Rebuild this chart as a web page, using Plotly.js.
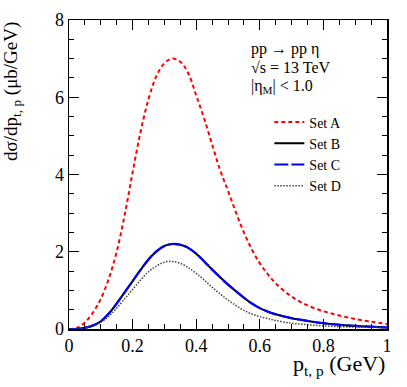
<!DOCTYPE html>
<html>
<head>
<meta charset="utf-8">
<script src="https://cdn.plot.ly/plotly-3.0.1.min.js"></script>
<style>
  html, body { margin: 0; padding: 0; background: #ffffff; }
  #chart { width: 407px; height: 387px; }
</style>
</head>
<body>
<div id="chart"></div>
<script>
  // transverse momentum of the proton, GeV
  const pt = [0, 0.025, 0.05, 0.075, 0.1, 0.125, 0.15, 0.175, 0.2, 0.225, 0.25, 0.275,
    0.3, 0.325, 0.35, 0.375, 0.4, 0.425, 0.45, 0.475, 0.5, 0.525, 0.55, 0.575,
    0.6, 0.625, 0.65, 0.7, 0.75, 0.8, 0.85, 0.9, 0.95, 1.0];

  // dsigma/dpt (microbarn/GeV)
  const setA = [0, 0.03, 0.17, 0.42, 0.78, 1.3, 2.0, 2.95, 4.05, 5.1, 5.95, 6.55,
    6.88, 7.0, 6.92, 6.62, 6.05, 5.45, 4.78, 4.12, 3.58, 3.02, 2.5, 2.06,
    1.7, 1.42, 1.18, 0.84, 0.61, 0.46, 0.35, 0.26, 0.19, 0.13];
  const setB = [0, 0.0, 0.03, 0.09, 0.2, 0.4, 0.66, 0.95, 1.24, 1.53, 1.8, 2.01,
    2.15, 2.2, 2.18, 2.1, 1.95, 1.75, 1.54, 1.34, 1.15, 0.98, 0.81, 0.66,
    0.54, 0.45, 0.38, 0.28, 0.21, 0.15, 0.11, 0.08, 0.06, 0.04];
  const setC = [0, 0.0, 0.03, 0.09, 0.2, 0.4, 0.66, 0.95, 1.24, 1.53, 1.8, 2.01,
    2.15, 2.2, 2.18, 2.1, 1.95, 1.75, 1.54, 1.34, 1.15, 0.98, 0.81, 0.66,
    0.54, 0.45, 0.38, 0.28, 0.21, 0.15, 0.11, 0.08, 0.06, 0.04];
  const setD = [0, 0.0, 0.03, 0.07, 0.17, 0.33, 0.54, 0.78, 1.02, 1.27, 1.48, 1.63,
    1.73, 1.75, 1.7, 1.59, 1.44, 1.27, 1.08, 0.91, 0.75, 0.61, 0.48, 0.39,
    0.32, 0.27, 0.22, 0.15, 0.11, 0.08, 0.06, 0.05, 0.04, 0.03];

  const serif = "'Liberation Serif', 'Times New Roman', serif";

  const data = [
    { name: "Set A", x: pt, y: setA, mode: "lines",
      line: { color: "#ff0000", width: 2, dash: "4px,3px", shape: "spline" } },
    { name: "Set B", x: pt, y: setB, mode: "lines",
      line: { color: "#000000", width: 2, shape: "spline" } },
    { name: "Set C", x: pt, y: setC, mode: "lines",
      line: { color: "#0000ff", width: 2.2, dash: "14px,3px", shape: "spline" } },
    { name: "Set D", x: pt, y: setD, mode: "lines",
      line: { color: "#444444", width: 1.5, dash: "1.5px,1.5px", shape: "spline" } },
  ];

  const axisCommon = {
    showgrid: false,
    zeroline: false,
    showline: true,
    linecolor: "#000000",
    linewidth: 1.5,
    mirror: "ticks",
    ticks: "inside",
    ticklen: 10,
    tickwidth: 1,
    tickcolor: "#000000",
    tickfont: { family: serif, size: 18, color: "#000000" },
  };

  const layout = {
    width: 407,
    height: 387,
    paper_bgcolor: "#ffffff",
    plot_bgcolor: "#ffffff",
    margin: { l: 69, r: 20, t: 20, b: 58 },
    font: { family: serif, color: "#000000" },
    xaxis: Object.assign({}, axisCommon, {
      range: [0, 1],
      tickvals: [0, 0.2, 0.4, 0.6, 0.8, 1],
      ticktext: ["0", "0.2", "0.4", "0.6", "0.8", "1"],
      minor: { dtick: 0.05, ticks: "inside", ticklen: 5, tickcolor: "#000000", showgrid: false },
    }),
    yaxis: Object.assign({}, axisCommon, {
      range: [0, 8],
      dtick: 2,
      minor: { dtick: 0.5, ticks: "inside", ticklen: 5, tickcolor: "#000000", showgrid: false },
    }),
    showlegend: true,
    legend: {
      x: 0.63, y: 0.72, xanchor: "left", yanchor: "top",
      bgcolor: "rgba(0,0,0,0)",
      font: { family: serif, size: 14, color: "#000000" },
      itemwidth: 30,
      tracegroupgap: 0,
    },
    annotations: [
      { text: "pp \u2192 pp \u03b7", xref: "paper", yref: "paper", x: 0.565, y: 0.905,
        xanchor: "left", yanchor: "middle", showarrow: false,
        font: { family: serif, size: 16 } },
      { text: "\u221as = 13 TeV", xref: "paper", yref: "paper", x: 0.565, y: 0.845,
        xanchor: "left", yanchor: "middle", showarrow: false,
        font: { family: serif, size: 16 } },
      { text: "|\u03b7<sub>M</sub>| < 1.0", xref: "paper", yref: "paper", x: 0.565, y: 0.785,
        xanchor: "left", yanchor: "middle", showarrow: false,
        font: { family: serif, size: 16 } },
      { text: "p<sub>t, p</sub> (GeV)", xref: "paper", yref: "paper", x: 1.0, y: -0.065,
        xanchor: "right", yanchor: "top", showarrow: false,
        font: { family: serif, size: 22 } },
      { text: "d\u03c3/dp<sub>t, p</sub> (\u03bcb/GeV)", xref: "paper", yref: "paper",
        x: -0.225, y: 1.0, xanchor: "left", yanchor: "top", textangle: -90, showarrow: false,
        font: { family: serif, size: 19 } },
    ],
  };

  Plotly.newPlot("chart", data, layout, { displayModeBar: false, staticPlot: true });
</script>
</body>
</html>
